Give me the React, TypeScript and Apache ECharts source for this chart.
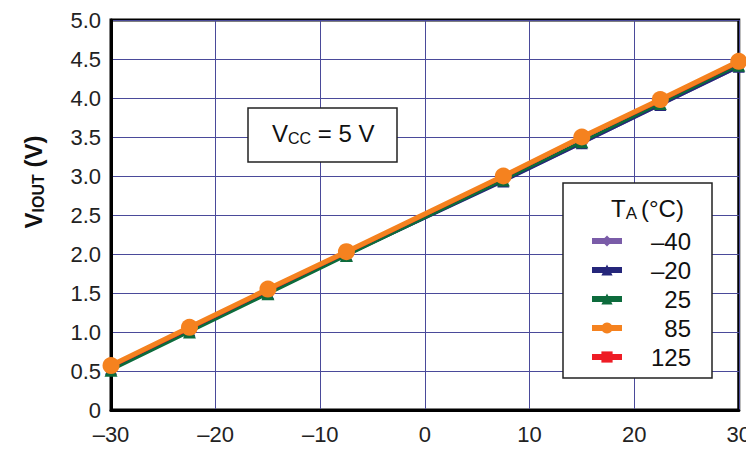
import React, { useEffect, useRef } from "react";
import * as echarts from "echarts";

const xValues = [-30, -22.5, -15, -7.5, 7.5, 15, 22.5, 30];
const seriesNames = ["–40", "–20", "25", "125", "85"];
const vM40 = [0.53, 1.02, 1.5, 1.99, 2.94, 3.42, 3.91, 4.4];
const vM20 = [0.53, 1.02, 1.5, 1.99, 2.93, 3.42, 3.91, 4.4];
const v25 = [0.51, 1.0, 1.49, 1.98, 2.95, 3.44, 3.93, 4.42];
const v125 = [0.56, 1.05, 1.54, 2.02, 2.99, 3.49, 3.97, 4.46];
const v85 = [0.57, 1.06, 1.55, 2.03, 3.0, 3.5, 3.98, 4.47];
const legendOrder = ["–40", "–20", "25", "85", "125"];

const colors = ["#7a5ca8", "#25267a", "#0d6b3c", "#ee1c25", "#f5821f"];
const symbols = ["diamond", "triangle", "triangle", "rect", "circle"];
const symbolSizes = [12, 12, 13, 11, 17];
const lineWidths = [3, 3, 3, 4, 5];

const FONT = "Liberation Sans, Arial, sans-serif";

export default function App() {
  const ref = useRef<HTMLDivElement>(null);
  useEffect(() => {
    if (!ref.current) return;
    const chart = echarts.init(ref.current, undefined, { renderer: "svg" });
    const allData = [vM40, vM20, v25, v125, v85];
    const series = allData.map((vals, i) => ({
      name: seriesNames[i],
      type: "line",
      data: vals.map((v, j) => [xValues[j], v]),
      symbol: symbols[i],
      symbolSize: symbolSizes[i],
      showSymbol: true,
      lineStyle: { color: colors[i], width: lineWidths[i] },
      itemStyle: { color: colors[i] },
      z: 3 + i,
    }));
    chart.setOption({
      animation: false,
      grid: {
        left: 111,
        right: 14,
        top: 20,
        bottom: 42,
        show: true,
        borderColor: "#000",
        borderWidth: 3,
      },
      xAxis: {
        type: "value",
        min: -30,
        max: 30,
        interval: 10,
        axisLine: { show: true, onZero: false, lineStyle: { color: "#000", width: 3 } },
        axisTick: { show: false },
        splitLine: { show: true, lineStyle: { color: "#4a4a9a", width: 1 } },
        axisLabel: {
          color: "#222",
          fontFamily: FONT,
          fontSize: 22,
          margin: 13,
          formatter: (v: number) => String(v).replace("-", "–"),
        },
      },
      yAxis: {
        type: "value",
        min: 0,
        max: 5,
        interval: 0.5,
        axisLine: { show: true, onZero: false, lineStyle: { color: "#000", width: 3 } },
        axisTick: { show: false },
        splitLine: { show: true, lineStyle: { color: "#4a4a9a", width: 1 } },
        axisLabel: {
          color: "#222",
          fontFamily: FONT,
          fontSize: 22,
          margin: 10,
          formatter: (v: number) => (v === 0 ? "0" : v.toFixed(1)),
        },
      },
      legend: {
        orient: "vertical",
        left: 584,
        top: 224,
        data: legendOrder,
        itemWidth: 30,
        itemHeight: 14,
        itemGap: 5,
        lineStyle: { width: 6 },
        textStyle: {
          fontFamily: FONT,
          fontSize: 24,
          color: "#111",
          rich: { r: { width: 64, align: "right", fontSize: 24, lineHeight: 24, fontFamily: FONT, color: "#111" } },
        },
        formatter: (n: string) => "{r|" + n + "}",
        z: 20,
      },
      graphic: [
        {
          type: "text",
          x: 33,
          y: 182,
          rotation: Math.PI / 2,
          style: {
            text: "{b|V}{s|IOUT}{b| (V)}",
            align: "center",
            verticalAlign: "middle",
            rich: {
              b: { fontFamily: FONT, fontWeight: "bold", fontSize: 24, fill: "#111" },
              s: { fontFamily: FONT, fontWeight: "bold", fontSize: 16, fill: "#111", padding: [10, 0, 0, 0] },
            },
          },
        },
        {
          type: "rect",
          shape: { x: 248, y: 108, width: 149, height: 54 },
          style: { fill: "#fff", stroke: "#222", lineWidth: 1.5 },
          z: 10,
        },
        {
          type: "text",
          x: 272,
          y: 120,
          style: {
            text: "{a|V}{s|CC}{a| = 5 V}",
            rich: {
              a: { fontFamily: FONT, fontSize: 24, fill: "#111" },
              s: { fontFamily: FONT, fontSize: 16, fill: "#111", padding: [10, 0, 0, 0] },
            },
          },
          z: 11,
        },
        {
          type: "rect",
          shape: { x: 563, y: 183, width: 149, height: 195 },
          style: { fill: "#fff", stroke: "#222", lineWidth: 1.5 },
          z: 10,
        },
        {
          type: "text",
          x: 611,
          y: 195,
          style: {
            text: "{a|T}{s|A}{a|(°C)}",
            rich: {
              a: { fontFamily: FONT, fontSize: 24, fill: "#111" },
              s: { fontFamily: FONT, fontSize: 17, fill: "#111", padding: [10, 4, 0, 0] },
            },
          },
          z: 11,
        },
      ],
      series,
    });
    return () => chart.dispose();
  }, []);
  return <div ref={ref} style={{ width: 754, height: 452, margin: -8 }} />;
}
